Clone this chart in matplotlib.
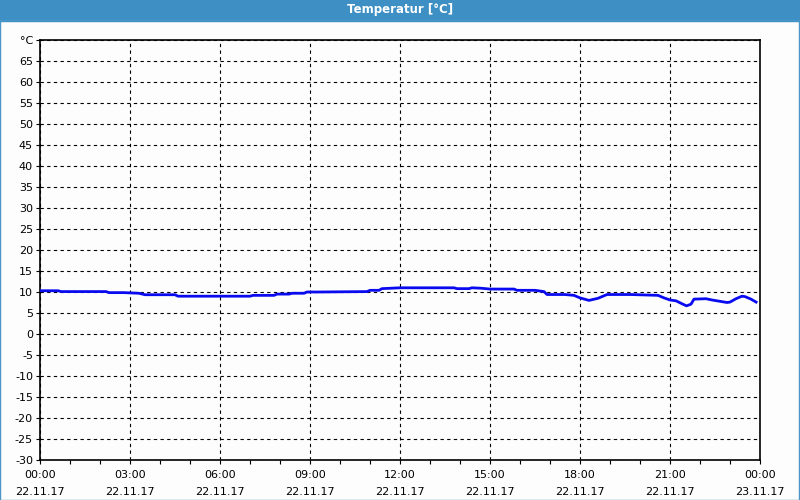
import matplotlib.pyplot as plt
from matplotlib.patches import Rectangle

# hours since 22.11.17 00:00 and temperature readings
hours = [0.0, 0.6, 0.7, 2.2, 2.3, 2.8, 3.3, 3.5, 4.5, 4.6, 7.0, 7.1, 7.8, 7.9, 8.3, 8.4,
         8.8, 8.9, 9.3, 10.9, 11.0, 11.3, 11.4, 12.0, 13.8, 13.9, 14.3, 14.4, 14.7, 15.0,
         15.8, 15.9, 16.5, 16.8, 16.9, 17.5, 17.8, 18.0, 18.3, 18.6, 18.9, 19.7, 20.6,
         20.8, 21.0, 21.2, 21.4, 21.55, 21.7, 21.8, 22.2, 22.4, 22.9, 23.0, 23.2, 23.4,
         23.5, 23.7, 23.87]
temps = [10.3, 10.3, 10.1, 10.1, 9.85, 9.85, 9.7, 9.35, 9.35, 9.0, 9.0, 9.2, 9.2, 9.5, 9.5, 9.7,
         9.7, 10.0, 10.0, 10.1, 10.4, 10.4, 10.8, 11.0, 11.0, 10.8, 10.8, 11.0, 10.9, 10.7,
         10.7, 10.4, 10.4, 10.1, 9.4, 9.4, 9.2, 8.6, 8.0, 8.5, 9.4, 9.4, 9.2,
         8.6, 8.1, 7.9, 7.2, 6.7, 7.1, 8.3, 8.4, 8.1, 7.5, 7.6, 8.4, 9.0,
         8.9, 8.3, 7.6]

x_ticks = [0, 3, 6, 9, 12, 15, 18, 21, 24]
x_labels = ['00:00\n22.11.17', '03:00\n22.11.17', '06:00\n22.11.17', '09:00\n22.11.17',
            '12:00\n22.11.17', '15:00\n22.11.17', '18:00\n22.11.17', '21:00\n22.11.17',
            '00:00\n23.11.17']
y_ticks = list(range(-30, 75, 5))
y_labels = [str(v) for v in y_ticks[:-1]] + ['°C']

fig = plt.figure(figsize=(8, 5), dpi=100, facecolor='#fcfdfc')

# window title bar and border
fig.patches.append(Rectangle((0, 0.959), 1, 0.041, transform=fig.transFigure,
                             color='#3d8fc4', zorder=0))
fig.patches.append(Rectangle((0.0006, 0.001), 0.9982, 0.96, transform=fig.transFigure,
                             fill=False, edgecolor='#4a96c8', linewidth=1.0, zorder=0))
fig.text(0.5, 0.98, 'Temperatur [°C]', color='white', fontsize=8.5, fontweight='bold',
         ha='center', va='center')

ax = fig.add_axes([0.05, 0.08, 0.90, 0.84])
ax.set_facecolor('#fcfdfc')
ax.plot(hours, temps, color='#0a0af0', linewidth=2.0, zorder=3)

ax.set_xlim(0, 24)
ax.set_ylim(-30, 70)
ax.set_xticks(x_ticks)
ax.set_xticklabels(x_labels, linespacing=1.9)
ax.set_xticks(range(25), minor=True)
ax.set_yticks(y_ticks)
ax.set_yticklabels(y_labels)

ax.grid(True, which='major', color='black', linestyle=(0, (3, 3)), linewidth=0.8)
ax.tick_params(axis='both', which='major', labelsize=8, length=3, width=0.8, color='black')
ax.tick_params(axis='x', which='minor', length=3, width=0.8)
ax.tick_params(axis='x', pad=4)
ax.tick_params(axis='y', pad=2)
for s in ax.spines.values():
    s.set_linewidth(1.2)
    s.set_color('black')

plt.savefig('out.png', dpi=100, facecolor=fig.get_facecolor())
